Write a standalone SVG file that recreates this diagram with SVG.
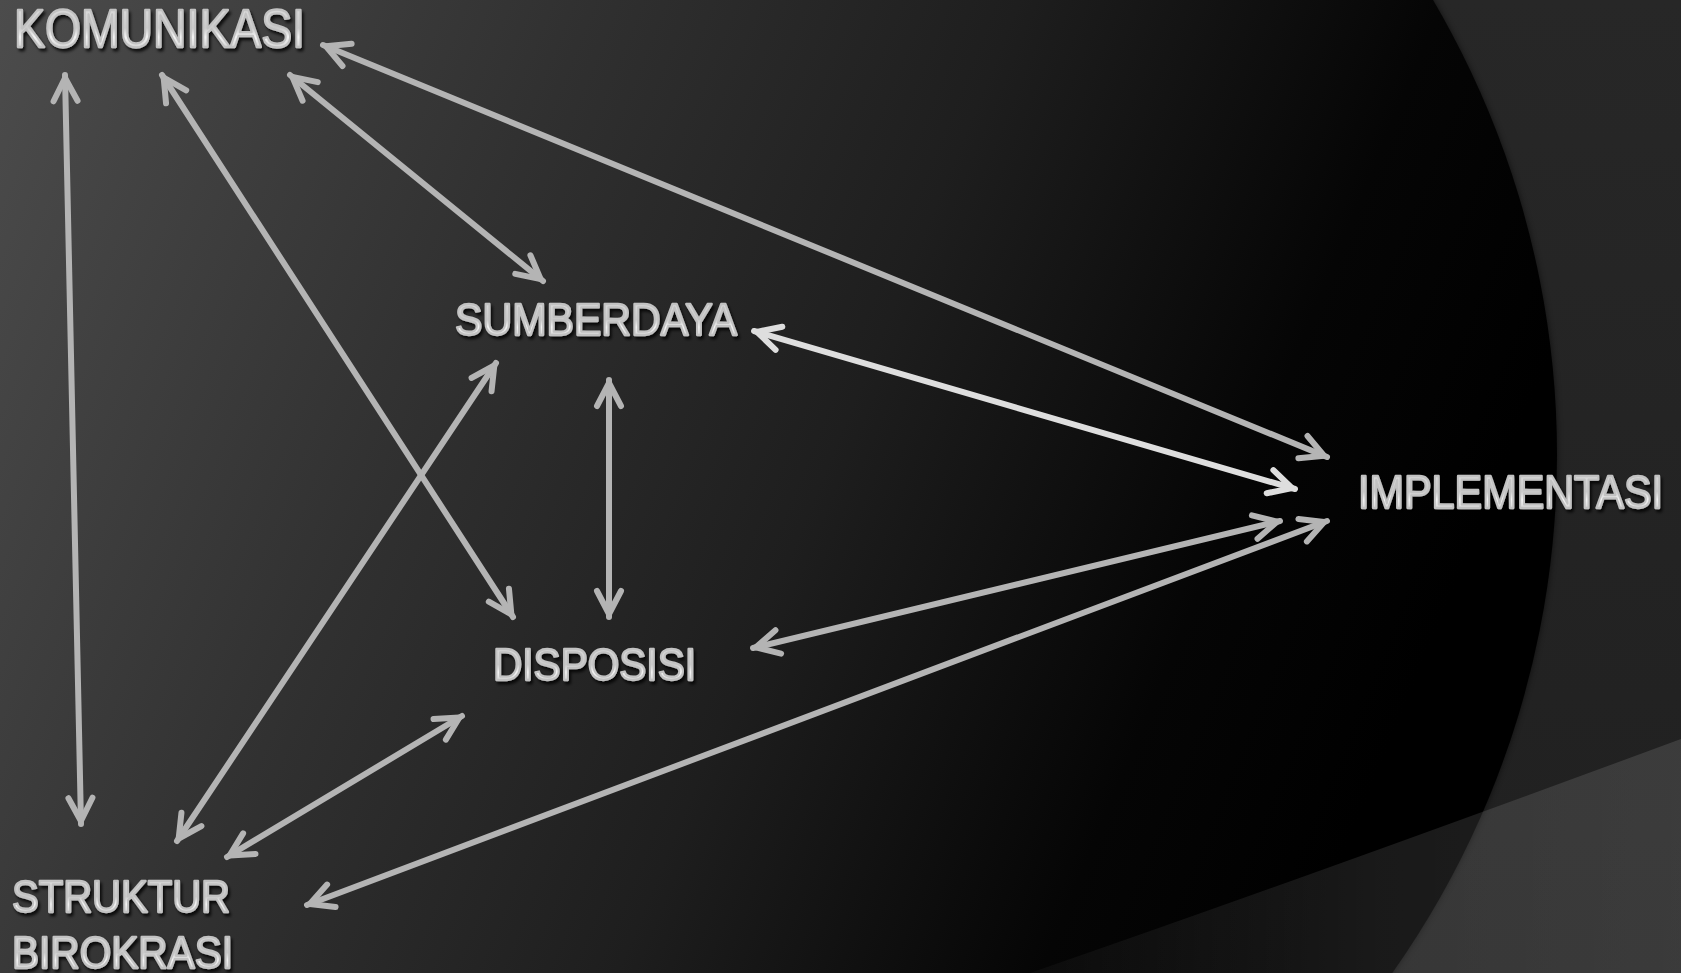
<svg xmlns="http://www.w3.org/2000/svg" width="1681" height="973" viewBox="0 0 1681 973">
  <defs>
    <linearGradient id="bgIn" gradientUnits="userSpaceOnUse" x1="0" y1="0" x2="1450" y2="600">
      <stop offset="0" stop-color="#4c4c4c"/>
      <stop offset="0.35" stop-color="#303030"/>
      <stop offset="0.6" stop-color="#1e1e1e"/>
      <stop offset="0.85" stop-color="#050505"/>
      <stop offset="1" stop-color="#000000"/>
    </linearGradient>
    <linearGradient id="bgOut" x1="0" y1="0" x2="0" y2="1">
      <stop offset="0" stop-color="#272727"/>
      <stop offset="1" stop-color="#202020"/>
    </linearGradient>
    <linearGradient id="band" gradientUnits="userSpaceOnUse" x1="1000" y1="0" x2="1681" y2="0">
      <stop offset="0" stop-color="#ffffff" stop-opacity="0.02"/>
      <stop offset="0.55" stop-color="#ffffff" stop-opacity="0.1"/>
      <stop offset="1" stop-color="#ffffff" stop-opacity="0.12"/>
    </linearGradient>
    <linearGradient id="metal" x1="0" y1="0" x2="0" y2="1">
      <stop offset="0" stop-color="#e4e4e4"/>
      <stop offset="0.5" stop-color="#cacaca"/>
      <stop offset="0.65" stop-color="#f4f4f4"/>
      <stop offset="1" stop-color="#b4b4b4"/>
    </linearGradient>
    <filter id="shadow" x="-10%" y="-30%" width="120%" height="170%">
      <feDropShadow dx="2" dy="3" stdDeviation="1.5" flood-color="#000" flood-opacity="0.8"/>
    </filter>
    <filter id="edgeGlow" x="-5%" y="-5%" width="110%" height="110%">
      <feGaussianBlur stdDeviation="3"/>
    </filter>
    <marker id="ah" viewBox="-32 -16 34 32" refX="0" refY="0" markerWidth="34" markerHeight="32" markerUnits="userSpaceOnUse" orient="auto-start-reverse" overflow="visible">
      <path d="M-26,-12 L-3,0 L-26,12" fill="none" stroke="#b4b4b4" stroke-width="6" stroke-linecap="round" stroke-linejoin="round"/>
    </marker>
    <marker id="ahb" viewBox="-32 -16 34 32" refX="0" refY="0" markerWidth="34" markerHeight="32" markerUnits="userSpaceOnUse" orient="auto-start-reverse" overflow="visible">
      <path d="M-26,-12 L-3,0 L-26,12" fill="none" stroke="#dedede" stroke-width="6" stroke-linecap="round" stroke-linejoin="round"/>
    </marker>
    <style>
      .lbl { font-family: "Liberation Sans Narrow", "Liberation Sans", Arial, sans-serif; font-weight: normal; fill: url(#metal); stroke: #c2c2c2; stroke-width: 2.3; stroke-linejoin: round; filter: url(#shadow); }
      .arr { fill: none; stroke: #b4b4b4; stroke-width: 6; stroke-linecap: round; marker-start: url(#ah); marker-end: url(#ah); }
      .arr.bright { stroke: #dedede; marker-start: url(#ahb); marker-end: url(#ahb); }
    </style>
  </defs>

  <g id="background">
    <rect x="0" y="0" width="1681" height="973" fill="url(#bgOut)"/>
    <circle cx="660" cy="455" r="897" fill="#000" opacity="0.6" filter="url(#edgeGlow)"/>
    <circle cx="660" cy="455" r="897" fill="url(#bgIn)"/>
    <path d="M1681,739 Q1310,876 1030,973 L1681,973 Z" fill="url(#band)"/>
  </g>

  <g id="connectors">
    <path class="arr" d="M65,75 L81,824"/>
    <path class="arr" d="M162,75 L513,617"/>
    <path class="arr" d="M290,75 L543,281"/>
    <path class="arr" d="M323,45 L1327,457"/>
    <path class="arr bright" d="M754,331 L1295,489"/>
    <path class="arr" d="M609,380 L609,617"/>
    <path class="arr" d="M496,363 L177,841"/>
    <path class="arr" d="M753,648 L1280,521"/>
    <path class="arr" d="M462,716 L227,857"/>
    <path class="arr" d="M307,905 L1327,521"/>
  </g>

  <g id="node-komunikasi">
    <text class="lbl" x="14" y="47" font-size="54" textLength="291" lengthAdjust="spacingAndGlyphs">KOMUNIKASI</text>
  </g>
  <g id="node-sumberdaya">
    <text class="lbl" x="455" y="335" font-size="45" textLength="282" lengthAdjust="spacingAndGlyphs">SUMBERDAYA</text>
  </g>
  <g id="node-disposisi">
    <text class="lbl" x="493" y="680" font-size="45" textLength="203" lengthAdjust="spacingAndGlyphs">DISPOSISI</text>
  </g>
  <g id="node-implementasi">
    <text class="lbl" x="1358" y="508" font-size="47" textLength="305" lengthAdjust="spacingAndGlyphs">IMPLEMENTASI</text>
  </g>
  <g id="node-struktur-birokrasi">
    <text class="lbl" x="12" y="912" font-size="45" textLength="218" lengthAdjust="spacingAndGlyphs">STRUKTUR</text>
    <text class="lbl" x="12" y="968" font-size="45" textLength="221" lengthAdjust="spacingAndGlyphs">BIROKRASI</text>
  </g>
</svg>
